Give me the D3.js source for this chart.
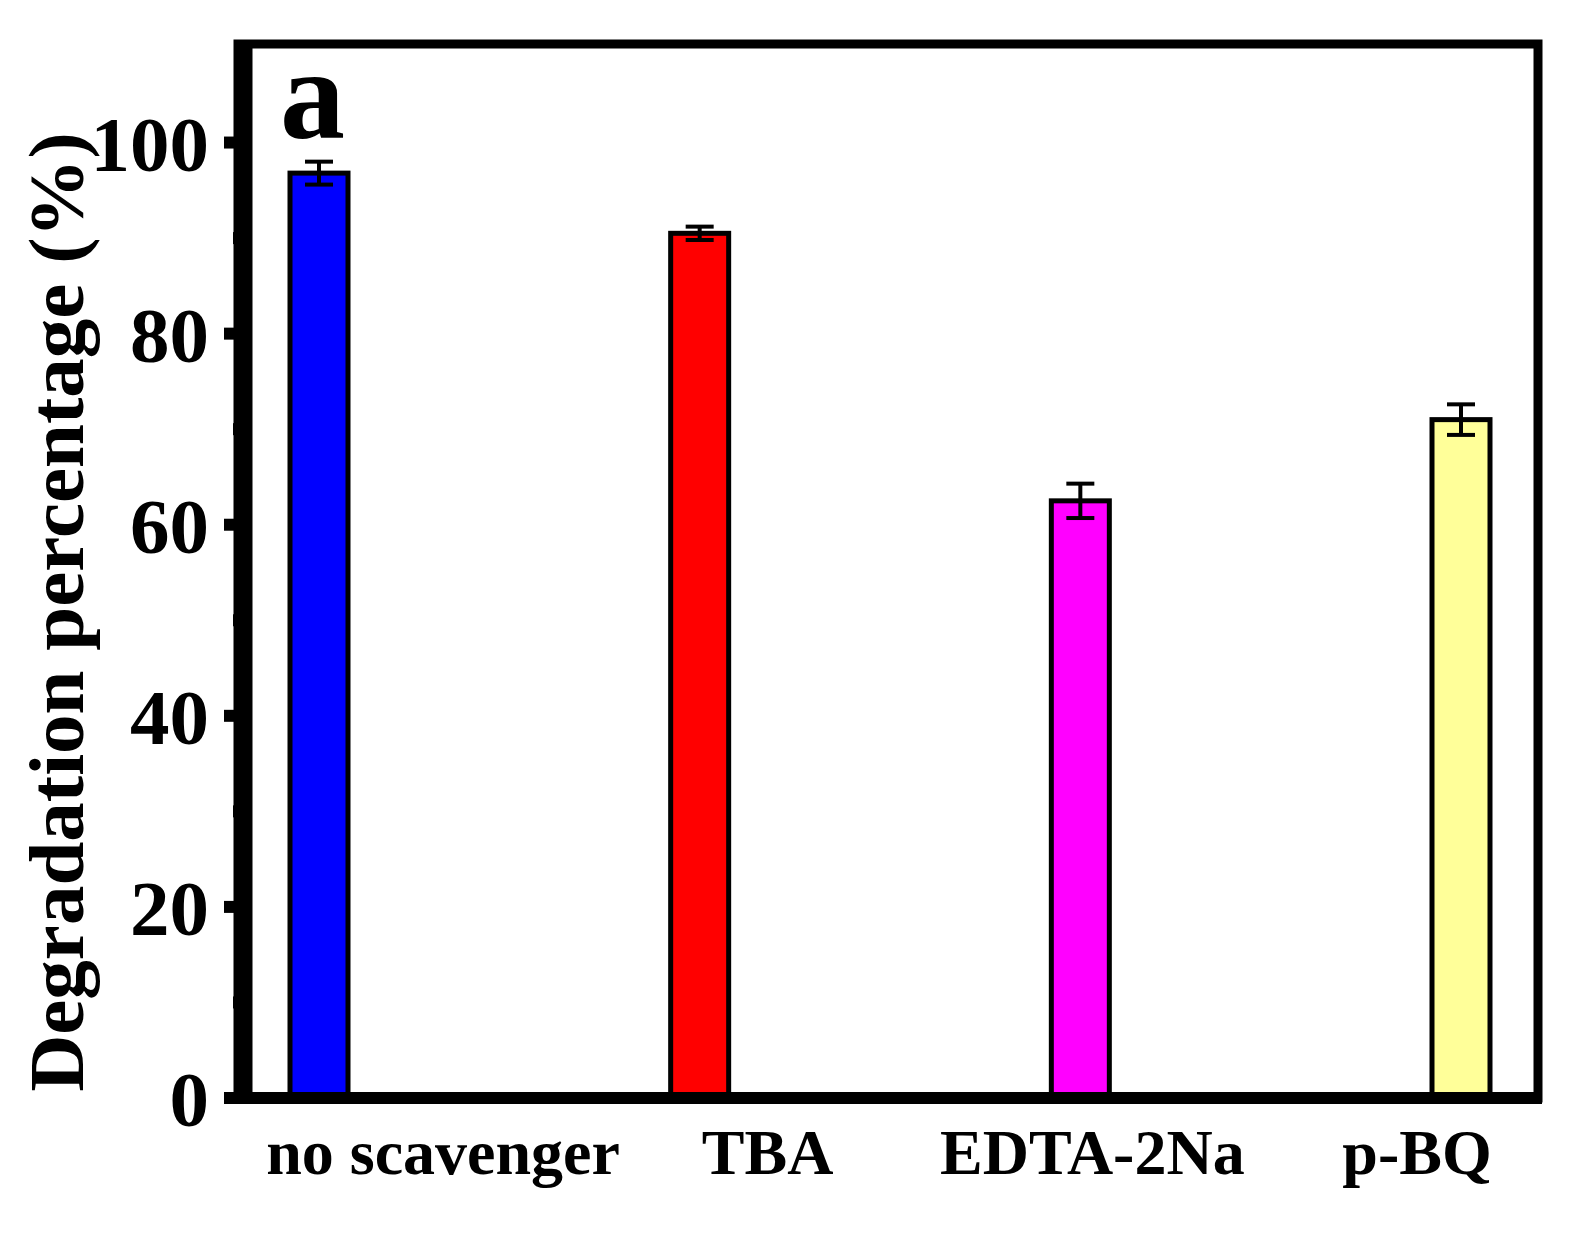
<!DOCTYPE html>
<html><head><meta charset="utf-8">
<script src="https://cdn.jsdelivr.net/npm/d3@7"></script>
<style>body{margin:0;background:#fff}</style>
</head><body>
<svg id="c" width="1595" height="1238"></svg>
<script>
var categories = ["no scavenger", "TBA", "EDTA-2Na", "p-BQ"];
var values = [96.8, 90.5, 62.5, 71.0];
var errors = [1.2, 0.7, 1.8, 1.6];
var colors = ["#0000ff", "#ff0000", "#ff00ff", "#ffff99"];
var yTicks = [0, 20, 40, 60, 80, 100];

var svg = d3.select("#c");
var L = 245, R = 1538, T = 47, B = 1098;
var font = "Liberation Serif, Times New Roman, serif";
var bw = 58;

var x = d3.scalePoint().domain(categories).range([319, 1461]);
var xl = d3.scalePoint().domain(categories).range([443, 1417]);
var y = d3.scaleLinear().domain([0, 110]).range([B, T]);

// bars
svg.selectAll(".bar").data(values).enter().append("rect")
  .attr("x", function(d, i) { return x(categories[i]) - bw / 2; })
  .attr("y", function(d) { return y(d); })
  .attr("width", bw)
  .attr("height", function(d) { return B - y(d); })
  .attr("fill", function(d, i) { return colors[i]; })
  .attr("stroke", "#000").attr("stroke-width", 5);

// error bars
var eb = svg.selectAll(".err").data(values).enter().append("g")
  .attr("stroke", "#000").attr("stroke-width", 4);
eb.append("line")
  .attr("x1", function(d, i) { return x(categories[i]); })
  .attr("x2", function(d, i) { return x(categories[i]); })
  .attr("y1", function(d, i) { return y(d + errors[i]); })
  .attr("y2", function(d, i) { return y(d - errors[i]); });
[1, -1].forEach(function(s) {
  eb.append("line")
    .attr("x1", function(d, i) { return x(categories[i]) - 14; })
    .attr("x2", function(d, i) { return x(categories[i]) + 14; })
    .attr("y1", function(d, i) { return y(d + s * errors[i]); })
    .attr("y2", function(d, i) { return y(d + s * errors[i]); });
});

// frame
svg.append("rect").attr("x", L - 7).attr("y", T - 3).attr("width", R - L + 7).attr("height", B - T + 3)
  .attr("fill", "none").attr("stroke", "#000").attr("stroke-width", 9);
svg.append("line").attr("x1", 224).attr("x2", R + 4).attr("y1", B).attr("y2", B)
  .attr("stroke", "#000").attr("stroke-width", 12);
svg.append("line").attr("x1", L).attr("x2", L).attr("y1", T - 7).attr("y2", B + 6)
  .attr("stroke", "#000").attr("stroke-width", 15);

// y axis ticks
var minor = d3.range(10, 110, 20);
svg.selectAll(".mj").data(yTicks).enter().append("line")
  .attr("x1", 224).attr("x2", L).attr("y1", y).attr("y2", y)
  .attr("stroke", "#000").attr("stroke-width", 12);
svg.selectAll(".mn").data(minor).enter().append("line")
  .attr("x1", 233).attr("x2", L).attr("y1", y).attr("y2", y)
  .attr("stroke", "#000").attr("stroke-width", 12);
svg.selectAll(".yl").data(yTicks).enter().append("text")
  .attr("x", 209).attr("y", function(d) { return y(d) + 28; })
  .attr("text-anchor", "end").attr("font-family", font).attr("font-weight", "bold")
  .attr("font-size", 79).text(function(d) { return d; });

// x labels
svg.selectAll(".xl").data(categories).enter().append("text")
  .attr("x", function(d) { return xl(d); })
  .attr("y", 1174).attr("text-anchor", "middle")
  .attr("font-family", font).attr("font-weight", "bold").attr("font-size", 64)
  .text(function(d) { return d; });

// y title
svg.append("text").attr("transform", "translate(83,612) rotate(-90)")
  .attr("text-anchor", "middle").attr("font-family", font).attr("font-weight", "bold")
  .attr("font-size", 79).text("Degradation percentage (%)");

// panel letter
svg.append("text").attr("x", 280).attr("y", 138).attr("font-family", font)
  .attr("font-weight", "bold").attr("font-size", 130).text("a");
</script>
</body></html>
